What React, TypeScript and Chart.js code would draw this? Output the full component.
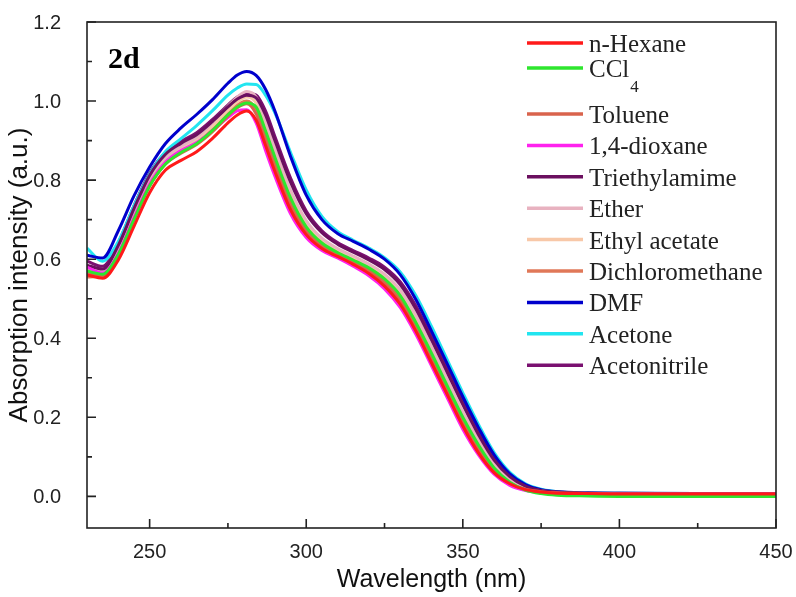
import React, { useEffect, useRef } from 'react';
import { Chart, registerables } from 'chart.js';

Chart.register(...registerables);

// ---------- data ----------
const wavelengths = [230, 235, 240, 245, 250, 255, 260, 265, 270, 275, 278, 281, 284, 287, 290, 295, 300, 305, 310, 315, 320, 325, 330, 335, 340, 345, 350, 355, 360, 365, 370, 375, 380, 390, 400, 425, 450];

const nHexane = [0.560, 0.552, 0.598, 0.683, 0.768, 0.825, 0.850, 0.872, 0.905, 0.945, 0.965, 0.975, 0.952, 0.888, 0.822, 0.725, 0.662, 0.627, 0.607, 0.587, 0.564, 0.532, 0.486, 0.418, 0.338, 0.258, 0.178, 0.110, 0.060, 0.032, 0.017, 0.011, 0.008, 0.007, 0.006, 0.006, 0.006];
const ccl4 = [0.570, 0.562, 0.612, 0.700, 0.785, 0.840, 0.870, 0.892, 0.925, 0.965, 0.985, 0.995, 0.985, 0.925, 0.858, 0.755, 0.682, 0.641, 0.617, 0.598, 0.578, 0.550, 0.508, 0.440, 0.362, 0.280, 0.200, 0.130, 0.072, 0.036, 0.016, 0.007, 0.003, 0.001, 0.000, 0.000, 0.000];
const toluene = [0.565, 0.560, 0.610, 0.700, 0.785, 0.840, 0.868, 0.890, 0.922, 0.962, 0.983, 0.993, 0.968, 0.905, 0.838, 0.738, 0.670, 0.633, 0.611, 0.592, 0.570, 0.540, 0.495, 0.426, 0.346, 0.266, 0.186, 0.118, 0.065, 0.034, 0.018, 0.012, 0.009, 0.007, 0.006, 0.006, 0.006];
const dioxane = [0.580, 0.565, 0.615, 0.705, 0.790, 0.845, 0.875, 0.895, 0.925, 0.958, 0.975, 0.978, 0.945, 0.875, 0.810, 0.715, 0.655, 0.622, 0.603, 0.582, 0.558, 0.525, 0.478, 0.410, 0.330, 0.250, 0.170, 0.105, 0.056, 0.028, 0.015, 0.010, 0.008, 0.007, 0.006, 0.006, 0.006];
const triethylamime = [0.585, 0.575, 0.635, 0.728, 0.812, 0.865, 0.893, 0.915, 0.948, 0.985, 1.005, 1.015, 1.008, 0.965, 0.900, 0.795, 0.715, 0.667, 0.638, 0.618, 0.598, 0.574, 0.536, 0.474, 0.396, 0.314, 0.232, 0.156, 0.092, 0.050, 0.026, 0.015, 0.011, 0.008, 0.007, 0.007, 0.007];
const ether = [0.575, 0.568, 0.622, 0.712, 0.800, 0.855, 0.885, 0.908, 0.945, 0.987, 1.010, 1.024, 1.010, 0.950, 0.880, 0.775, 0.698, 0.653, 0.627, 0.608, 0.588, 0.562, 0.522, 0.458, 0.378, 0.296, 0.214, 0.142, 0.082, 0.044, 0.023, 0.014, 0.010, 0.008, 0.007, 0.006, 0.006];
const ethylAcetate = [0.570, 0.565, 0.618, 0.708, 0.795, 0.850, 0.880, 0.903, 0.937, 0.977, 0.998, 1.010, 0.995, 0.937, 0.870, 0.765, 0.690, 0.647, 0.622, 0.603, 0.583, 0.556, 0.515, 0.450, 0.370, 0.288, 0.206, 0.135, 0.077, 0.041, 0.022, 0.013, 0.009, 0.007, 0.006, 0.006, 0.006];
const dichloromethane = [0.555, 0.558, 0.612, 0.702, 0.788, 0.843, 0.872, 0.895, 0.928, 0.968, 0.990, 1.000, 0.978, 0.915, 0.848, 0.746, 0.676, 0.637, 0.614, 0.595, 0.574, 0.545, 0.501, 0.434, 0.354, 0.272, 0.192, 0.122, 0.068, 0.036, 0.019, 0.012, 0.009, 0.007, 0.006, 0.006, 0.006];
const dmf = [0.610, 0.603, 0.672, 0.760, 0.833, 0.892, 0.932, 0.966, 1.003, 1.045, 1.066, 1.075, 1.065, 1.030, 0.975, 0.860, 0.762, 0.700, 0.665, 0.645, 0.625, 0.600, 0.561, 0.498, 0.418, 0.336, 0.252, 0.174, 0.105, 0.057, 0.030, 0.017, 0.012, 0.009, 0.008, 0.007, 0.007];
const acetone = [0.628, 0.595, 0.645, 0.735, 0.815, 0.872, 0.905, 0.938, 0.975, 1.015, 1.033, 1.043, 1.042, 1.015, 0.970, 0.870, 0.775, 0.708, 0.670, 0.648, 0.628, 0.604, 0.568, 0.508, 0.430, 0.346, 0.262, 0.182, 0.111, 0.061, 0.032, 0.018, 0.012, 0.009, 0.008, 0.007, 0.007];
const acetonitrile = [0.595, 0.582, 0.642, 0.735, 0.818, 0.870, 0.898, 0.920, 0.953, 0.990, 1.010, 1.020, 1.015, 0.975, 0.910, 0.805, 0.722, 0.672, 0.642, 0.622, 0.603, 0.580, 0.543, 0.482, 0.404, 0.322, 0.240, 0.163, 0.097, 0.053, 0.028, 0.016, 0.011, 0.008, 0.008, 0.007, 0.007];

const seriesNames = ['n-Hexane', 'CCl₄', 'Toluene', '1,4-dioxane', 'Triethylamime', 'Ether', 'Ethyl acetate', 'Dichloromethane', 'DMF', 'Acetone', 'Acetonitrile'];
const seriesValues = [nHexane, ccl4, toluene, dioxane, triethylamime, ether, ethylAcetate, dichloromethane, dmf, acetone, acetonitrile];
const seriesColors = ['#ff1a1a', '#2ee62e', '#d9634c', '#ff22ee', '#6b0f5f', '#e8b2c0', '#f8c8a8', '#e07858', '#0000cc', '#22e5f0', '#7a1070'];

const xMajorTicks = [250, 300, 350, 400, 450];
const xMinorTicks = [275, 325, 375, 425];
const yMajorTicks = [0, 0.2, 0.4, 0.6, 0.8, 1.0, 1.2];
const yMinorTicks = [0.1, 0.3, 0.5, 0.7, 0.9, 1.1];

const AXIS_COLOR = '#222';
const TICK_FONT = '20px "Liberation Sans", Arial, sans-serif';

const framePlugin = {
  id: 'frameTicks',
  afterDraw(chart: any) {
    const { ctx, chartArea } = chart;
    const { left, right, top, bottom } = chartArea;
    const xs = chart.scales.x;
    const ys = chart.scales.y;
    ctx.save();
    ctx.strokeStyle = AXIS_COLOR;
    ctx.lineWidth = 1.6;
    ctx.strokeRect(left, top, right - left, bottom - top);
    ctx.beginPath();
    xMajorTicks.forEach((v) => {
      const px = xs.getPixelForValue(v);
      ctx.moveTo(px, bottom);
      ctx.lineTo(px, bottom - 9);
    });
    xMinorTicks.forEach((v) => {
      const px = xs.getPixelForValue(v);
      ctx.moveTo(px, bottom);
      ctx.lineTo(px, bottom - 5);
    });
    yMajorTicks.forEach((v) => {
      const py = ys.getPixelForValue(v);
      ctx.moveTo(left, py);
      ctx.lineTo(left + 9, py);
    });
    yMinorTicks.forEach((v) => {
      const py = ys.getPixelForValue(v);
      ctx.moveTo(left, py);
      ctx.lineTo(left + 5, py);
    });
    ctx.stroke();

    // tick labels
    ctx.fillStyle = AXIS_COLOR;
    ctx.font = TICK_FONT;
    ctx.textAlign = 'center';
    ctx.textBaseline = 'middle';
    xMajorTicks.forEach((v) => {
      ctx.fillText(String(v), xs.getPixelForValue(v), bottom + 24);
    });
    ctx.textAlign = 'right';
    yMajorTicks.forEach((v) => {
      ctx.fillText(v.toFixed(1), left - 26, ys.getPixelForValue(v) + 1);
    });

    // panel label
    ctx.fillStyle = '#000';
    ctx.font = 'bold 30px "Liberation Serif", serif';
    ctx.textBaseline = 'alphabetic';
    ctx.textAlign = 'left';
    ctx.fillText('2d', left + 21, top + 46);
    ctx.restore();
  },
};

const legendPlugin = {
  id: 'insideLegend',
  afterDatasetsDraw(chart: any) {
    const { ctx, chartArea } = chart;
    const x0 = chartArea.right - 249;
    const x1 = chartArea.right - 193;
    const tx = chartArea.right - 187;
    ctx.save();
    chart.data.datasets.forEach((ds: any, i: number) => {
      const y = chartArea.top + (i === 0 ? 21 : i === 1 ? 46 : 92 + (i - 2) * 31.4);
      ctx.strokeStyle = ds.borderColor;
      ctx.lineWidth = 3.5;
      ctx.lineCap = 'butt';
      ctx.beginPath();
      ctx.moveTo(x0, y);
      ctx.lineTo(x1, y);
      ctx.stroke();
      ctx.fillStyle = '#222';
      ctx.textAlign = 'left';
      ctx.textBaseline = 'alphabetic';
      const label: string = ds.label;
      const subIdx = label.indexOf('₄');
      ctx.font = '25px "Liberation Serif", serif';
      if (subIdx >= 0) {
        const main = label.slice(0, subIdx);
        ctx.fillText(main, tx, y + 9);
        const w = ctx.measureText(main).width;
        ctx.font = '17px "Liberation Serif", serif';
        ctx.fillText('4', tx + w + 1, y + 24);
      } else {
        ctx.fillText(label, tx, y + 9);
      }
    });
    ctx.restore();
  },
};

export default function App() {
  const canvasRef = useRef<HTMLCanvasElement | null>(null);

  useEffect(() => {
    if (!canvasRef.current) return;
    const datasets = seriesNames.map((name, i) => ({
      label: name,
      data: wavelengths.map((w, j) => ({ x: w, y: seriesValues[i][j] })),
      borderColor: seriesColors[i],
      backgroundColor: seriesColors[i],
      borderWidth: 3,
      pointRadius: 0,
      fill: false,
      cubicInterpolationMode: 'monotone' as const,
    }));

    const chart = new Chart(canvasRef.current, {
      type: 'line',
      data: { datasets },
      options: {
        animation: false,
        responsive: false,
        maintainAspectRatio: false,
        devicePixelRatio: 1,
        layout: { padding: { top: 22, right: 20, left: 0, bottom: 0 } },
        plugins: {
          legend: { display: false },
          tooltip: { enabled: false },
        },
        scales: {
          x: {
            type: 'linear',
            min: 230,
            max: 450,
            grid: { display: false },
            border: { display: false },
            ticks: { display: false },
            afterFit: (s: any) => {
              s.height = 69;
            },
            title: {
              display: true,
              text: 'Wavelength (nm)',
              color: '#111',
              font: { family: '"Liberation Sans", Arial, sans-serif', size: 25 },
              padding: { top: 0, bottom: 2 },
            },
          },
          y: {
            type: 'linear',
            min: -0.08,
            max: 1.2,
            grid: { display: false },
            border: { display: false },
            ticks: { display: false },
            afterFit: (s: any) => {
              s.width = 87;
            },
            title: {
              display: true,
              text: 'Absorption intensity (a.u.)',
              color: '#111',
              font: { family: '"Liberation Sans", Arial, sans-serif', size: 26 },
              padding: { top: 4, bottom: 0 },
            },
          },
        },
      },
      plugins: [framePlugin, legendPlugin],
    });
    return () => chart.destroy();
  }, []);

  return (
    <div style={{ position: 'absolute', left: 0, top: 0, width: 796, height: 597, background: '#fff' }}>
      <canvas ref={canvasRef} width={796} height={597} style={{ display: 'block' }} />
    </div>
  );
}
